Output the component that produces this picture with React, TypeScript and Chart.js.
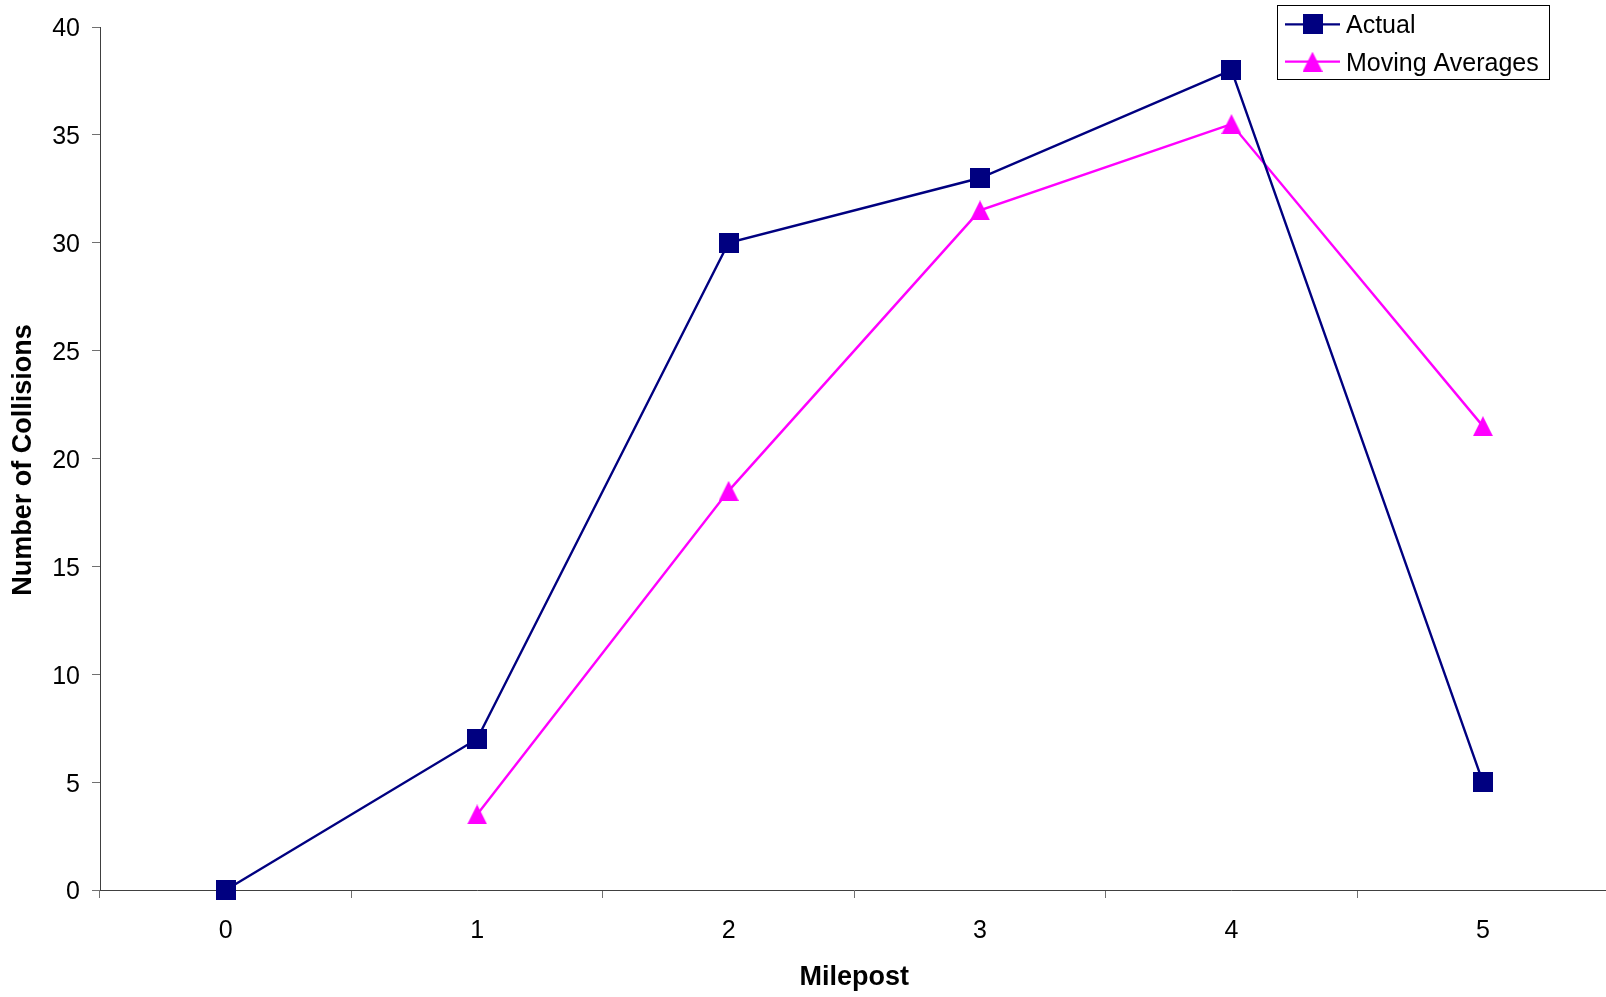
import React, { useEffect, useRef } from 'react';
import { Chart, registerables } from 'chart.js';

Chart.register(...registerables);

const categories = ['0', '1', '2', '3', '4', '5'];
const actual = [0, 7, 30, 33, 38, 5];
const movingAverages = [null, 3.5, 18.5, 31.5, 35.5, 21.5];
const seriesNames = ['Actual', 'Moving Averages'];
const yMin = 0;
const yMax = 40;
const yStep = 5;
const xTitle = 'Milepost';
const yTitle = 'Number of Collisions';

const NAVY = '#000080';
const MAGENTA = '#FF00FF';
const FONT = '"Liberation Sans", Arial, sans-serif';
const CANVAS_W = 1621;

function makeSquare(color: string, size: number) {
  const c = document.createElement('canvas');
  c.width = size;
  c.height = size;
  const ctx = c.getContext('2d')!;
  ctx.fillStyle = color;
  ctx.fillRect(0, 0, size, size);
  return c;
}

function makeTriangle(color: string, size: number) {
  const c = document.createElement('canvas');
  c.width = size;
  c.height = size;
  const ctx = c.getContext('2d')!;
  ctx.fillStyle = color;
  ctx.beginPath();
  ctx.moveTo(size / 2, 0);
  ctx.lineTo(size, size);
  ctx.lineTo(0, size);
  ctx.closePath();
  ctx.fill();
  return c;
}

export default function App() {
  const ref = useRef<HTMLCanvasElement | null>(null);

  useEffect(() => {
    const canvas = ref.current;
    if (!canvas) return;
    const square = makeSquare(NAVY, 20);
    const triangle = makeTriangle(MAGENTA, 20);

    const overlay = {
      id: 'overlay',
      afterDraw(chart: any) {
        const ctx = chart.ctx as CanvasRenderingContext2D;
        ctx.save();
        ctx.fillStyle = '#000';
        ctx.font = `bold 27px ${FONT}`;
        ctx.textAlign = 'center';
        ctx.textBaseline = 'alphabetic';
        const ca = chart.chartArea;
        ctx.fillText(xTitle, (ca.left + ca.right) / 2, 985);
        ctx.save();
        ctx.translate(31, 460);
        ctx.rotate(-Math.PI / 2);
        ctx.fillText(yTitle, 0, 0);
        ctx.restore();

        // legend
        const bx = 1277.5, by = 5.5, bw = 272, bh = 74;
        ctx.fillStyle = '#fff';
        ctx.fillRect(bx, by, bw, bh);
        ctx.strokeStyle = '#000';
        ctx.lineWidth = 1;
        ctx.strokeRect(bx, by, bw, bh);
        const rows = [
          { name: seriesNames[0], color: NAVY, img: square, y: 24.3 },
          { name: seriesNames[1], color: MAGENTA, img: triangle, y: 61.7 },
        ];
        ctx.font = `25px ${FONT}`;
        ctx.textAlign = 'left';
        for (const r of rows) {
          ctx.strokeStyle = r.color;
          ctx.lineWidth = 2.25;
          ctx.beginPath();
          ctx.moveTo(1285, r.y);
          ctx.lineTo(1340, r.y);
          ctx.stroke();
          ctx.drawImage(r.img, 1312.5 - 10, r.y - 10, 20, 20);
          ctx.fillStyle = '#000';
          ctx.fillText(r.name, 1346, r.y + 8.9);
        }
        ctx.restore();
      },
    };

    const tickFont = { family: FONT, size: 25 };

    const chart = new Chart(canvas, {
      type: 'line',
      data: {
        labels: categories,
        datasets: [
          {
            label: seriesNames[0],
            data: actual,
            borderColor: NAVY,
            backgroundColor: NAVY,
            borderWidth: 2.4,
            pointStyle: square as any,
            pointRadius: 10,
            pointHoverRadius: 10,
            tension: 0,
            clip: false as any,
          },
          {
            label: seriesNames[1],
            data: movingAverages,
            borderColor: MAGENTA,
            backgroundColor: MAGENTA,
            borderWidth: 2.4,
            pointStyle: triangle as any,
            pointRadius: 10,
            pointHoverRadius: 10,
            tension: 0,
            spanGaps: false,
            clip: false as any,
          },
        ],
      },
      options: {
        responsive: false,
        animation: false,
        devicePixelRatio: 1,
        layout: { padding: { top: 25.7, right: 1, left: 0, bottom: 0 } },
        plugins: {
          legend: { display: false },
          tooltip: { enabled: false },
          title: { display: false },
        },
        events: [],
        scales: {
          x: {
            type: 'category',
            offset: true,
            grid: {
              display: true,
              drawOnChartArea: false,
              drawTicks: true,
              tickLength: 8,
              offset: true,
              color: '#707070',
              lineWidth: 1,
            },
            border: { display: true, color: '#404040', width: 1 },
            ticks: {
              color: '#000',
              font: tickFont,
              padding: 18,
              maxRotation: 0,
              autoSkip: false,
            },
            afterFit: (s: any) => {
              s.height = 107;
            },
          },
          y: {
            type: 'linear',
            min: yMin,
            max: yMax,
            grid: {
              display: true,
              drawOnChartArea: false,
              drawTicks: true,
              tickLength: 8,
              color: '#707070',
              lineWidth: 1,
            },
            border: { display: true, color: '#404040', width: 1 },
            ticks: {
              stepSize: yStep,
              color: '#000',
              font: tickFont,
              padding: 12,
              labelOffset: 2.5,
            },
            afterFit: (s: any) => {
              s.width = 100;
            },
          },
        },
      },
      plugins: [overlay],
    });

    return () => {
      chart.destroy();
    };
  }, []);

  return (
    <div
      style={{
        position: 'fixed',
        left: 0,
        top: 0,
        width: 1606,
        height: 997,
        overflow: 'hidden',
        background: '#fff',
      }}
    >
      <canvas
        ref={ref}
        width={CANVAS_W}
        height={997}
        style={{ display: 'block', width: CANVAS_W, height: 997 }}
      />
    </div>
  );
}
